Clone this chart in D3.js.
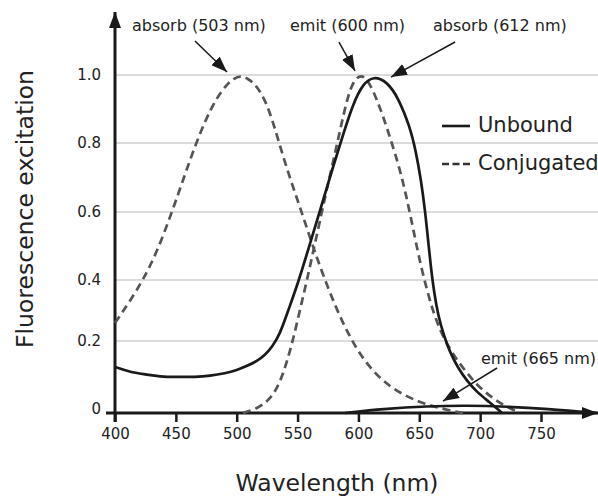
<!DOCTYPE html>
<html>
<head>
<meta charset="utf-8">
<script src="https://cdn.jsdelivr.net/npm/d3@7"></script>
<style>
  body { margin: 0; background: #fff; }
  text { font-family: 'DejaVu Sans', Verdana, sans-serif; fill: #222; }
</style>
</head>
<body>
<div id="chart"></div>
<script>
'use strict';

//data: wavelength (nm) and relative value
let unboundAbsWl  = [400, 412.3, 423, 437, 450.9, 465.7, 478.1, 490.4, 500.2, 508.5, 516.7, 523.2, 529, 535.6, 542.1, 550.4, 558.6, 567.6, 576.6, 586.5, 595.5, 603.8, 612.8, 623.5, 632.5, 642.4, 647.3, 651.4, 654.7, 657.2, 659.6, 662.1, 665.4, 670.3, 675.2, 681.8, 689.2, 697.4, 707.3, 718];
let unboundAbsVal = [0.128, 0.114, 0.108, 0.101, 0.100, 0.100, 0.103, 0.110, 0.119, 0.131, 0.144, 0.161, 0.183, 0.223, 0.298, 0.390, 0.488, 0.594, 0.701, 0.815, 0.915, 0.975, 0.997, 0.980, 0.935, 0.847, 0.774, 0.693, 0.606, 0.518, 0.435, 0.361, 0.285, 0.216, 0.169, 0.125, 0.089, 0.058, 0.031, 0];

let unboundEmWl  = [589, 620.2, 656.3, 689.2, 722.1, 757.4, 784.5, 796];
let unboundEmVal = [0, 0.011, 0.019, 0.021, 0.018, 0.011, 0.003, 0];

let conjAbsWl  = [400, 411.5, 423, 434.5, 446.8, 456.7, 465.7, 474.8, 483, 491.2, 497.8, 502.7, 509.3, 516.7, 524.1, 530.6, 537.2, 545.4, 553.6, 561.9, 570.9, 581.6, 593.1, 607, 625.9, 650.6, 669.5, 685.9];
let conjAbsVal = [0.259, 0.326, 0.400, 0.482, 0.600, 0.701, 0.791, 0.871, 0.929, 0.970, 0.990, 0.998, 0.990, 0.967, 0.921, 0.853, 0.771, 0.681, 0.597, 0.506, 0.415, 0.308, 0.210, 0.133, 0.069, 0.028, 0.011, 0];

let conjEmWl  = [505.2, 515, 522.4, 528.2, 533.1, 538, 542.1, 546.2, 552, 557.7, 563.5, 569.2, 575, 580.8, 585.7, 589.8, 593.9, 598, 602.1, 606.2, 610.3, 615.3, 620.2, 625.1, 630, 635, 639.1, 643.2, 647.3, 651.4, 656.3, 661.3, 667, 673.6, 681, 689.2, 698.2, 708.1, 718.8, 731.1];
let conjEmVal = [0, 0.010, 0.025, 0.044, 0.069, 0.108, 0.153, 0.203, 0.302, 0.400, 0.494, 0.588, 0.681, 0.771, 0.850, 0.915, 0.965, 0.990, 0.999, 0.990, 0.967, 0.926, 0.879, 0.826, 0.771, 0.710, 0.649, 0.582, 0.509, 0.441, 0.367, 0.298, 0.236, 0.186, 0.147, 0.111, 0.075, 0.047, 0.022, 0.003];

let xTicks = [400, 450, 500, 550, 600, 650, 700, 750];
let yTicks = [0, 0.2, 0.4, 0.6, 0.8, 1.0];
let yTickLabels = ['0', '0.2', '0.4', '0.6', '0.8', '1.0'];

let legendLabels = ['Unbound', 'Conjugated'];

//annotations: arrow tail, arrow tip and text anchor, all in data units
let annoLabels = ['absorb (503 nm)', 'emit (600 nm)', 'absorb (612 nm)', 'emit (665 nm)'];
let annoTail   = [[465.7, 1.100], [584.0, 1.097], [679.4, 1.097], [713.9, 0.125]];
let annoTip    = [[492.0, 1.009], [597.2, 1.012], [626.8, 0.994], [669.5, 0.033]];
let annoText   = [[414.0, 1.129, 'start'], [638.3, 1.129, 'end'], [661.3, 1.129, 'start'], [700.7, 0.136, 'start']];

//set up the svg
let width = 598;
let height = 500;

let svg = d3.select('#chart')
  .append('svg')
  .attr('width', width)
  .attr('height', height);

//arrowhead marker
let defs = svg.append('defs');
defs.append('marker')
  .attr('id', 'head')
  .attr('markerUnits', 'userSpaceOnUse')
  .attr('viewBox', '0 0 16 12')
  .attr('refX', 16)
  .attr('refY', 6)
  .attr('markerWidth', 16)
  .attr('markerHeight', 12)
  .attr('orient', 'auto')
  .append('path')
  .attr('d', 'M0,0 L16,6 L0,12 Z')
  .attr('fill', '#1a1a1a');

//scales (the y gridlines in the original are not evenly spaced)
let xScale = d3.scaleLinear().domain([400, 750]).range([115, 541]);
let yScale = d3.scaleLinear().domain(yTicks).range([413, 341, 280, 212, 143, 75]);

//GRIDLINES==================================================
svg.append('g')
  .attr('class', 'grid')
  .selectAll('line')
  .data(yTicks.slice(1))
  .enter()
  .append('line')
  .attr('x1', xScale(400))
  .attr('x2', width)
  .attr('y1', d => yScale(d))
  .attr('y2', d => yScale(d))
  .attr('stroke', '#cfcfcf')
  .attr('stroke-width', 1.5);

//AXES=======================================================
let xAxis = d3.axisBottom(xScale)
  .tickValues(xTicks)
  .tickSize(9)
  .tickPadding(6)
  .tickFormat(d3.format('d'));

let gx = svg.append('g')
  .attr('transform', `translate(0, ${yScale(0)})`)
  .call(xAxis);
gx.select('.domain').remove();
gx.selectAll('line').attr('stroke', '#1a1a1a').attr('stroke-width', 2.5);
gx.selectAll('text')
  .attr('font-size', 15)
  .attr('font-family', "'DejaVu Sans', Verdana, sans-serif")
  .attr('fill', '#222');

let yAxis = d3.axisLeft(yScale)
  .tickValues(yTicks)
  .tickSize(0)
  .tickPadding(14)
  .tickFormat((d, i) => yTickLabels[i]);

let gy = svg.append('g')
  .attr('transform', `translate(${xScale(400)}, 0)`)
  .call(yAxis);
gy.select('.domain').remove();
gy.selectAll('text')
  .attr('font-size', 15)
  .attr('font-family', "'DejaVu Sans', Verdana, sans-serif")
  .attr('fill', '#222');
gy.selectAll('.tick').filter(d => d === 0).select('text').attr('dy', '0.05em');

//axis lines with arrowheads
svg.append('line')
  .attr('x1', xScale(400) - 9)
  .attr('x2', width)
  .attr('y1', yScale(0))
  .attr('y2', yScale(0))
  .attr('stroke', '#1a1a1a')
  .attr('stroke-width', 3)
  .attr('marker-end', 'url(#head)');

svg.append('line')
  .attr('x1', xScale(400))
  .attr('x2', xScale(400))
  .attr('y1', yScale(0) + 9)
  .attr('y2', 12)
  .attr('stroke', '#1a1a1a')
  .attr('stroke-width', 3)
  .attr('marker-end', 'url(#head)');

//axis titles
svg.append('text')
  .attr('x', 337)
  .attr('y', 491)
  .attr('text-anchor', 'middle')
  .attr('font-size', 23.5)
  .text('Wavelength (nm)');

svg.append('text')
  .attr('transform', 'translate(33, 209) rotate(-90)')
  .attr('text-anchor', 'middle')
  .attr('font-size', 23.5)
  .text('Fluorescence excitation');

//CURVES=====================================================
//a b-spline smooths out the small reading errors in the points
let line = d3.line()
  .x(d => xScale(d[0]))
  .y(d => yScale(d[1]))
  .curve(d3.curveBasis);

function zip(a, b) {
  return a.map((v, i) => [v, b[i]]);
}

let curves = [
  { pts: zip(conjAbsWl, conjAbsVal), dashed: true },
  { pts: zip(conjEmWl, conjEmVal), dashed: true },
  { pts: zip(unboundAbsWl, unboundAbsVal), dashed: false },
  { pts: zip(unboundEmWl, unboundEmVal), dashed: false }
];

svg.append('g')
  .selectAll('path')
  .data(curves)
  .enter()
  .append('path')
  .attr('d', d => line(d.pts))
  .attr('fill', 'none')
  .attr('stroke', d => d.dashed ? '#555' : '#1a1a1a')
  .attr('stroke-width', 2.7)
  .attr('stroke-dasharray', d => d.dashed ? '8,5' : null);

//LEGEND=====================================================
let legend = svg.append('g').attr('transform', 'translate(442, 126)');
legendLabels.forEach((lab, i) => {
  let row = legend.append('g').attr('transform', `translate(0, ${i * 38})`);
  row.append('line')
    .attr('x1', 0)
    .attr('x2', 28)
    .attr('stroke', i ? '#333' : '#1a1a1a')
    .attr('stroke-width', 2.6)
    .attr('stroke-dasharray', i ? '7,3.5' : null);
  row.append('text')
    .attr('x', 36)
    .attr('y', 6)
    .attr('font-size', 21)
    .text(lab);
});

//ANNOTATIONS================================================
let anno = svg.append('g');
annoLabels.forEach((lab, i) => {
  anno.append('line')
    .attr('x1', xScale(annoTail[i][0]))
    .attr('y1', yScale(annoTail[i][1]))
    .attr('x2', xScale(annoTip[i][0]))
    .attr('y2', yScale(annoTip[i][1]))
    .attr('stroke', '#1a1a1a')
    .attr('stroke-width', 1.5)
    .attr('marker-end', 'url(#head)');
  anno.append('text')
    .attr('x', xScale(annoText[i][0]))
    .attr('y', yScale(annoText[i][1]))
    .attr('text-anchor', annoText[i][2])
    .attr('font-size', 16)
    .text(lab);
});
</script>
</body>
</html>
